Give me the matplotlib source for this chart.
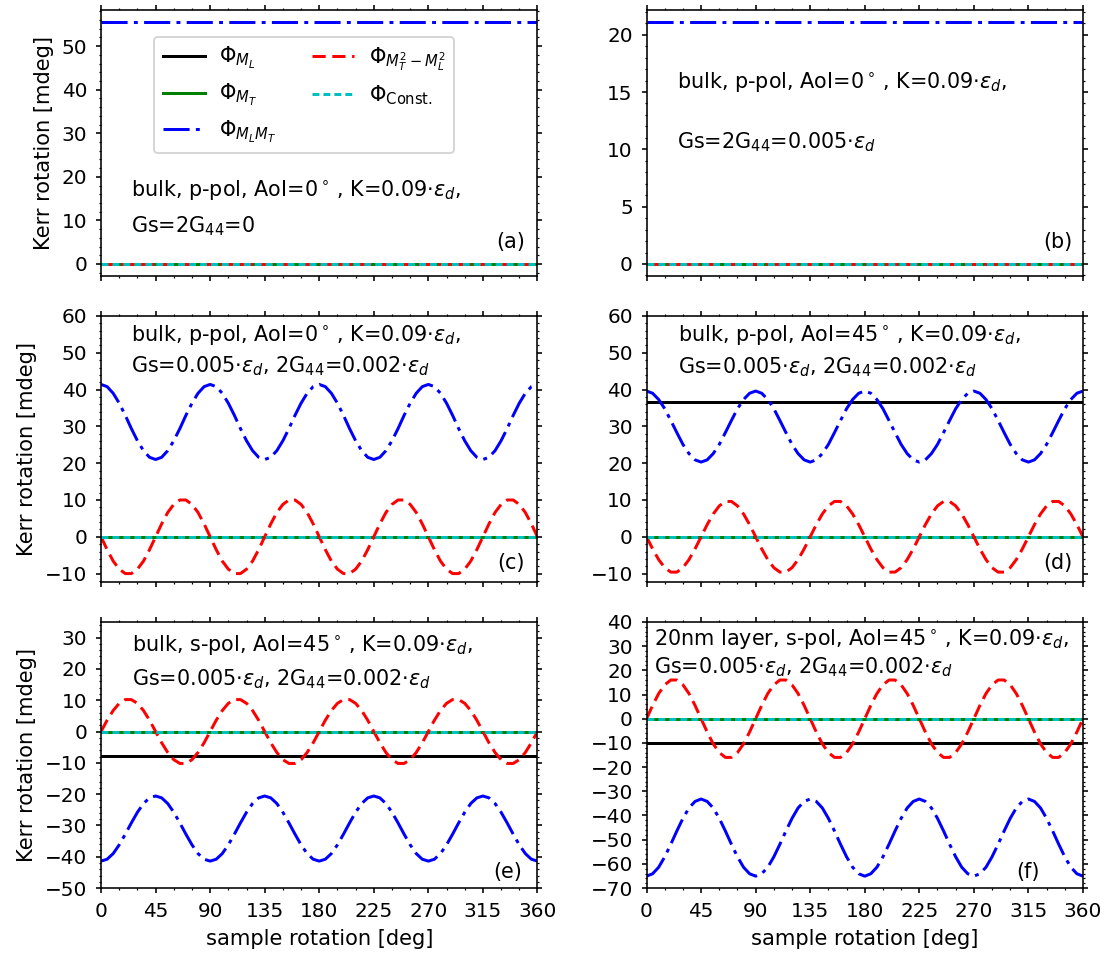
import numpy as np
import matplotlib
matplotlib.use("Agg")
import matplotlib.pyplot as plt
from matplotlib.ticker import MultipleLocator, AutoMinorLocator

# ---------------- data ----------------
angle = np.arange(0, 360.01, 5.0)          # sample rotation [deg]

panel_tags = ["(a)", "(b)", "(c)", "(d)", "(e)", "(f)"]

# constant contributions per panel (a..f)
ml_level = [0.0, 0.0, 0.0, 36.6, -7.7, -10.2]       # Phi_ML
mt_level = [0.0, 0.0, 0.0, 0.0, 0.0, 0.0]           # Phi_MT
const_level = [0.0, 0.0, 0.0, 0.0, 0.0, 0.0]        # Phi_Const.
mlmt_a = 55.5
mlmt_b = 21.1
m2_a = 0.0
m2_b = 0.0

mlmt_c = [41.4, 40.8, 39.0, 36.3, 33.0, 29.4, 26.1, 23.4, 21.6, 21.0, 21.6, 23.4, 26.1, 29.4, 33.0, 36.3, 39.0, 40.8,
          41.4, 40.8, 39.0, 36.3, 33.0, 29.4, 26.1, 23.4, 21.6, 21.0, 21.6, 23.4, 26.1, 29.4, 33.0, 36.3, 39.0, 40.8,
          41.4, 40.8, 39.0, 36.3, 33.0, 29.4, 26.1, 23.4, 21.6, 21.0, 21.6, 23.4, 26.1, 29.4, 33.0, 36.3, 39.0, 40.8,
          41.4, 40.8, 39.0, 36.3, 33.0, 29.4, 26.1, 23.4, 21.6, 21.0, 21.6, 23.4, 26.1, 29.4, 33.0, 36.3, 39.0, 40.8,
          41.4]
m2_c = [0.0, -3.5, -6.6, -8.8, -10.0, -10.0, -8.8, -6.6, -3.5, 0.0, 3.5, 6.6, 8.8, 10.0, 10.0, 8.8, 6.6, 3.5,
        0.0, -3.5, -6.6, -8.8, -10.0, -10.0, -8.8, -6.6, -3.5, 0.0, 3.5, 6.6, 8.8, 10.0, 10.0, 8.8, 6.6, 3.5,
        0.0, -3.5, -6.6, -8.8, -10.0, -10.0, -8.8, -6.6, -3.5, 0.0, 3.5, 6.6, 8.8, 10.0, 10.0, 8.8, 6.6, 3.5,
        0.0, -3.5, -6.6, -8.8, -10.0, -10.0, -8.8, -6.6, -3.5, 0.0, 3.5, 6.6, 8.8, 10.0, 10.0, 8.8, 6.6, 3.5,
        0.0]

mlmt_d = [39.6, 39.0, 37.3, 34.8, 31.6, 28.3, 25.1, 22.6, 20.9, 20.3, 20.9, 22.6, 25.1, 28.3, 31.6, 34.8, 37.3, 39.0,
          39.6, 39.0, 37.3, 34.8, 31.6, 28.3, 25.1, 22.6, 20.9, 20.3, 20.9, 22.6, 25.1, 28.3, 31.6, 34.8, 37.3, 39.0,
          39.6, 39.0, 37.3, 34.8, 31.6, 28.3, 25.1, 22.6, 20.9, 20.3, 20.9, 22.6, 25.1, 28.3, 31.6, 34.8, 37.3, 39.0,
          39.6, 39.0, 37.3, 34.8, 31.6, 28.3, 25.1, 22.6, 20.9, 20.3, 20.9, 22.6, 25.1, 28.3, 31.6, 34.8, 37.3, 39.0,
          39.6]
m2_d = [0.0, -3.3, -6.2, -8.4, -9.6, -9.6, -8.4, -6.2, -3.3, 0.0, 3.3, 6.2, 8.4, 9.6, 9.6, 8.4, 6.2, 3.3,
        0.0, -3.3, -6.2, -8.4, -9.6, -9.6, -8.4, -6.2, -3.3, 0.0, 3.3, 6.2, 8.4, 9.6, 9.6, 8.4, 6.2, 3.3,
        0.0, -3.3, -6.2, -8.4, -9.6, -9.6, -8.4, -6.2, -3.3, 0.0, 3.3, 6.2, 8.4, 9.6, 9.6, 8.4, 6.2, 3.3,
        0.0, -3.3, -6.2, -8.4, -9.6, -9.6, -8.4, -6.2, -3.3, 0.0, 3.3, 6.2, 8.4, 9.6, 9.6, 8.4, 6.2, 3.3,
        0.0]

mlmt_e = [-41.4, -40.8, -39.0, -36.2, -32.8, -29.2, -25.8, -23.0, -21.2, -20.6, -21.2, -23.0, -25.8, -29.2, -32.8, -36.2, -39.0, -40.8,
          -41.4, -40.8, -39.0, -36.2, -32.8, -29.2, -25.8, -23.0, -21.2, -20.6, -21.2, -23.0, -25.8, -29.2, -32.8, -36.2, -39.0, -40.8,
          -41.4, -40.8, -39.0, -36.2, -32.8, -29.2, -25.8, -23.0, -21.2, -20.6, -21.2, -23.0, -25.8, -29.2, -32.8, -36.2, -39.0, -40.8,
          -41.4, -40.8, -39.0, -36.2, -32.8, -29.2, -25.8, -23.0, -21.2, -20.6, -21.2, -23.0, -25.8, -29.2, -32.8, -36.2, -39.0, -40.8,
          -41.4]
m2_e = [0.0, 3.6, 6.7, 9.0, 10.2, 10.2, 9.0, 6.7, 3.6, 0.0, -3.6, -6.7, -9.0, -10.2, -10.2, -9.0, -6.7, -3.6,
        0.0, 3.6, 6.7, 9.0, 10.2, 10.2, 9.0, 6.7, 3.6, 0.0, -3.6, -6.7, -9.0, -10.2, -10.2, -9.0, -6.7, -3.6,
        0.0, 3.6, 6.7, 9.0, 10.2, 10.2, 9.0, 6.7, 3.6, 0.0, -3.6, -6.7, -9.0, -10.2, -10.2, -9.0, -6.7, -3.6,
        0.0, 3.6, 6.7, 9.0, 10.2, 10.2, 9.0, 6.7, 3.6, 0.0, -3.6, -6.7, -9.0, -10.2, -10.2, -9.0, -6.7, -3.6,
        0.0]

mlmt_f = [-65.1, -64.1, -61.4, -57.1, -51.9, -46.4, -41.2, -36.9, -34.2, -33.2, -34.2, -36.9, -41.2, -46.4, -51.9, -57.1, -61.4, -64.1,
          -65.1, -64.1, -61.4, -57.1, -51.9, -46.4, -41.2, -36.9, -34.2, -33.2, -34.2, -36.9, -41.2, -46.4, -51.9, -57.1, -61.4, -64.1,
          -65.1, -64.1, -61.4, -57.1, -51.9, -46.4, -41.2, -36.9, -34.2, -33.2, -34.2, -36.9, -41.2, -46.4, -51.9, -57.1, -61.4, -64.1,
          -65.1, -64.1, -61.4, -57.1, -51.9, -46.4, -41.2, -36.9, -34.2, -33.2, -34.2, -36.9, -41.2, -46.4, -51.9, -57.1, -61.4, -64.1,
          -65.1]
m2_f = [0.0, 5.5, 10.4, 14.0, 16.0, 16.0, 14.0, 10.4, 5.5, 0.0, -5.5, -10.4, -14.0, -16.0, -16.0, -14.0, -10.4, -5.5,
        0.0, 5.5, 10.4, 14.0, 16.0, 16.0, 14.0, 10.4, 5.5, 0.0, -5.5, -10.4, -14.0, -16.0, -16.0, -14.0, -10.4, -5.5,
        0.0, 5.5, 10.4, 14.0, 16.0, 16.0, 14.0, 10.4, 5.5, 0.0, -5.5, -10.4, -14.0, -16.0, -16.0, -14.0, -10.4, -5.5,
        0.0, 5.5, 10.4, 14.0, 16.0, 16.0, 14.0, 10.4, 5.5, 0.0, -5.5, -10.4, -14.0, -16.0, -16.0, -14.0, -10.4, -5.5,
        0.0]

x_ticks = [0, 45, 90, 135, 180, 225, 270, 315, 360]

labels = [r"$\Phi_{M_L}$", r"$\Phi_{M_T}$", r"$\Phi_{M_LM_T}$",
          r"$\Phi_{M_T^2-M_L^2}$", r"$\Phi_{\mathrm{Const.}}$"]

text_line1 = [r"bulk, p-pol, AoI=0$^\circ\,$, K=0.09$\cdot\epsilon_d$,",
              r"bulk, p-pol, AoI=0$^\circ\,$, K=0.09$\cdot\epsilon_d$,",
              r"bulk, p-pol, AoI=0$^\circ\,$, K=0.09$\cdot\epsilon_d$,",
              r"bulk, p-pol, AoI=45$^\circ\,$, K=0.09$\cdot\epsilon_d$,",
              r"bulk, s-pol, AoI=45$^\circ\,$, K=0.09$\cdot\epsilon_d$,",
              r"20nm layer, s-pol, AoI=45$^\circ\,$, K=0.09$\cdot\epsilon_d$,"]
text_line2 = [r"Gs=2G$_{44}$=0",
              r"Gs=2G$_{44}$=0.005$\cdot\epsilon_d$",
              r"Gs=0.005$\cdot\epsilon_d$, 2G$_{44}$=0.002$\cdot\epsilon_d$",
              r"Gs=0.005$\cdot\epsilon_d$, 2G$_{44}$=0.002$\cdot\epsilon_d$",
              r"Gs=0.005$\cdot\epsilon_d$, 2G$_{44}$=0.002$\cdot\epsilon_d$",
              r"Gs=0.005$\cdot\epsilon_d$, 2G$_{44}$=0.002$\cdot\epsilon_d$"]

# ---------------- layout / style ----------------
text_pos = [(0.069, 0.302, 0.163), (0.070, 0.705, 0.478),
            (0.069, 0.907, 0.788), (0.072, 0.907, 0.786),
            (0.070, 0.889, 0.762), (0.016, 0.914, 0.807)]
tag_pos = [(0.972, 0.106), (0.975, 0.106), (0.972, 0.049),
           (0.977, 0.049), (0.966, 0.038), (0.900, 0.038)]
ylims = [None, None, (-12.3, 60), (-12.3, 60), (-50, 35), (-70, 40)]
ymajor = [10, 5, 10, 10, 10, 10]

LW = 1.5
FS = 10.4

fig = plt.figure(figsize=(1108 / 144, 962 / 144), dpi=144)
gs = fig.add_gridspec(3, 2, left=0.0912, right=0.9774, top=0.9896, bottom=0.0769,
                      wspace=0.25, hspace=0.15)
axes = []
for i in range(6):
    r, c = divmod(i, 2)
    ax = fig.add_subplot(gs[r, c], sharex=axes[0] if axes else None)
    axes.append(ax)

mlmt_series = [mlmt_a, mlmt_b, mlmt_c, mlmt_d, mlmt_e, mlmt_f]
m2_series = [m2_a, m2_b, m2_c, m2_d, m2_e, m2_f]

for i, ax in enumerate(axes):
    n = len(angle)
    mlmt = mlmt_series[i]
    m2 = m2_series[i]
    mlmt_y = np.full(n, mlmt) if np.isscalar(mlmt) else np.asarray(mlmt)
    m2_y = np.full(n, m2) if np.isscalar(m2) else np.asarray(m2)
    ax.plot(angle, np.full(n, ml_level[i]), color="k", lw=LW, ls="-", label=labels[0])
    ax.plot(angle, np.full(n, mt_level[i]), color="g", lw=LW, ls="-", label=labels[1])
    ax.plot(angle, mlmt_y, color="b", lw=LW, ls=(0, (8.7, 2.1, 1.3, 2.1)),
            label=labels[2])
    ax.plot(angle, m2_y, color="r", lw=LW, ls=(0, (4.4, 2.2)), label=labels[3])
    ax.plot(angle, np.full(n, const_level[i]), color="c", lw=LW,
            ls=(0, (2.3, 1.35)), label=labels[4])

    ax.set_xlim(0, 360)
    if ylims[i] is not None:
        ax.set_ylim(*ylims[i])
    ax.yaxis.set_major_locator(MultipleLocator(ymajor[i]))
    ax.xaxis.set_major_locator(MultipleLocator(45))
    ax.xaxis.set_minor_locator(MultipleLocator(15))
    ax.yaxis.set_minor_locator(AutoMinorLocator())
    ax.tick_params(which="both", direction="out", top=True, right=True,
                   labelsize=10)
    ax.tick_params(which="major", length=2.4, pad=4.5)
    ax.tick_params(which="minor", length=1.2)
    if i < 4:
        ax.tick_params(labelbottom=False)
    else:
        ax.set_xticks(x_ticks)
        ax.set_xlabel("sample rotation [deg]", fontsize=10.5)
    if i % 2 == 0:
        ax.set_ylabel("Kerr rotation [mdeg]", fontsize=10.5)

    tx, ty1, ty2 = text_pos[i]
    ax.text(tx, ty1, text_line1[i], transform=ax.transAxes, fontsize=FS,
            ha="left", va="baseline")
    ax.text(tx, ty2, text_line2[i], transform=ax.transAxes, fontsize=FS,
            ha="left", va="baseline")
    px, py = tag_pos[i]
    ax.text(px, py, panel_tags[i], transform=ax.transAxes, fontsize=FS,
            ha="right", va="baseline")

axes[0].legend(ncol=2, loc="upper left", bbox_to_anchor=(0.122, 0.899),
               borderaxespad=0, fontsize=10.5, columnspacing=1.7,
               handletextpad=0.7)

fig.savefig("out.png", dpi=144)
